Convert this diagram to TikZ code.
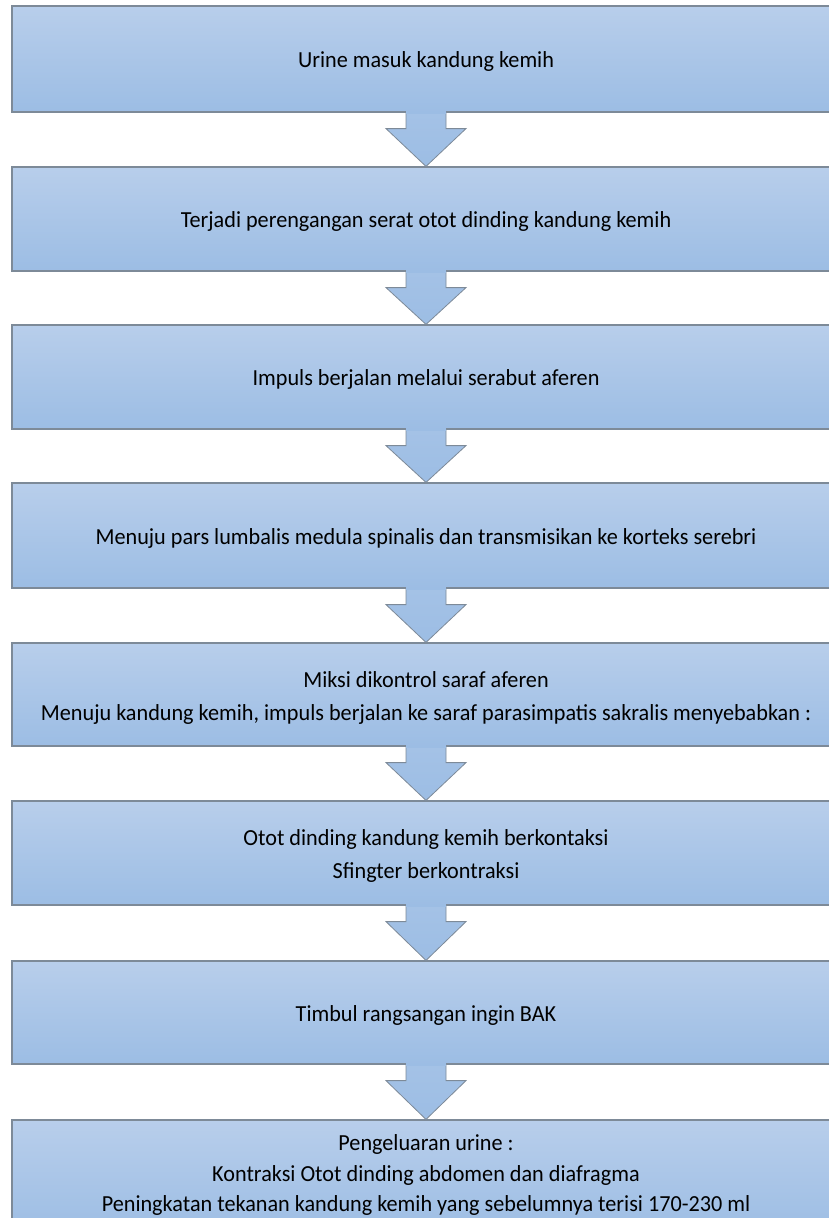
\documentclass[tikz,border=0pt]{standalone}
\usepackage{fontspec}
\setmainfont{Carlito}[FakeStretch=0.965]
\usetikzlibrary{calc}
\definecolor{boxtop}{RGB}{184,206,235}
\definecolor{boxbot}{RGB}{156,189,228}
\definecolor{edge}{RGB}{125,138,152}
\tikzset{
  flowbox/.style={rectangle, draw=edge, line width=1.2pt, top color=boxtop, bottom color=boxbot,
    minimum width=828pt, inner sep=0pt},
  flowtext/.style={inner sep=0pt, align=center, font=\fontsize{23}{33}\selectfont},
  flowarrow/.style={draw=edge, line width=0.8pt, top color=boxbot!70!boxtop, bottom color=boxbot, line join=miter}
}
\newcommand{\downarrowbetween}[2]{%
  \path[flowarrow] ($(#1.south)+(-20,-1)$) -- ($(#1.south)+(-20,16)$) -- ($(#1.south)+(-40,16)$)
    -- (#2.north) -- ($(#1.south)+(40,16)$) -- ($(#1.south)+(20,16)$) -- ($(#1.south)+(20,-1)$);
  \fill[boxbot] ($(#1.south)+(-19.6,-1.5)$) rectangle ($(#1.south)+(19.6,1)$);
}
\begin{document}
\begin{tikzpicture}[x=1pt,y=-1pt]
\useasboundingbox (0,0) rectangle (829,1218);
\node[flowbox, minimum height=106pt] (b1) at (426,59) {};
\node[flowbox, minimum height=104pt] (b2) at (426,219) {};
\node[flowbox, minimum height=104pt] (b3) at (426,377) {};
\node[flowbox, minimum height=105pt] (b4) at (426,535.5) {};
\node[flowbox, minimum height=103pt] (b5) at (426,694.5) {};
\node[flowbox, minimum height=104pt] (b6) at (426,853) {};
\node[flowbox, minimum height=103pt] (b7) at (426,1012.5) {};
\node[flowbox, minimum height=116pt] (b8) at (426,1178) {};
\node[flowtext] (t1) at ($(b1.center)+(0,2.5)$) {Urine masuk kandung kemih};
\node[flowtext] (t2) at ($(b2.center)+(0,2.5)$) {Terjadi perengangan serat otot dinding kandung kemih};
\node[flowtext] (t3) at ($(b3.center)+(0,2.5)$) {Impuls berjalan melalui serabut aferen};
\node[flowtext] (t4) at ($(b4.center)+(0,2.5)$) {Menuju pars lumbalis medula spinalis dan transmisikan ke korteks serebri};
\node[flowtext] (t5) at ($(b5.center)+(0,3)$) {Miksi dikontrol saraf aferen\\Menuju kandung kemih, impuls berjalan ke saraf parasimpatis sakralis menyebabkan :};
\node[flowtext] (t6) at ($(b6.center)+(0,3)$) {Otot dinding kandung kemih berkontaksi\\Sfingter berkontraksi};
\node[flowtext] (t7) at ($(b7.center)+(0,2.5)$) {Timbul rangsangan ingin BAK};
\node[flowtext, font=\fontsize{23}{30.5}\selectfont, anchor=north] (t8) at ($(b8.north)+(0,15)$) {Pengeluaran urine :\\Kontraksi Otot dinding abdomen dan diafragma\\Peningkatan tekanan kandung kemih yang sebelumnya terisi 170-230 ml};
\downarrowbetween{b1}{b2}
\downarrowbetween{b2}{b3}
\downarrowbetween{b3}{b4}
\downarrowbetween{b4}{b5}
\downarrowbetween{b5}{b6}
\downarrowbetween{b6}{b7}
\downarrowbetween{b7}{b8}
\end{tikzpicture}
\end{document}
